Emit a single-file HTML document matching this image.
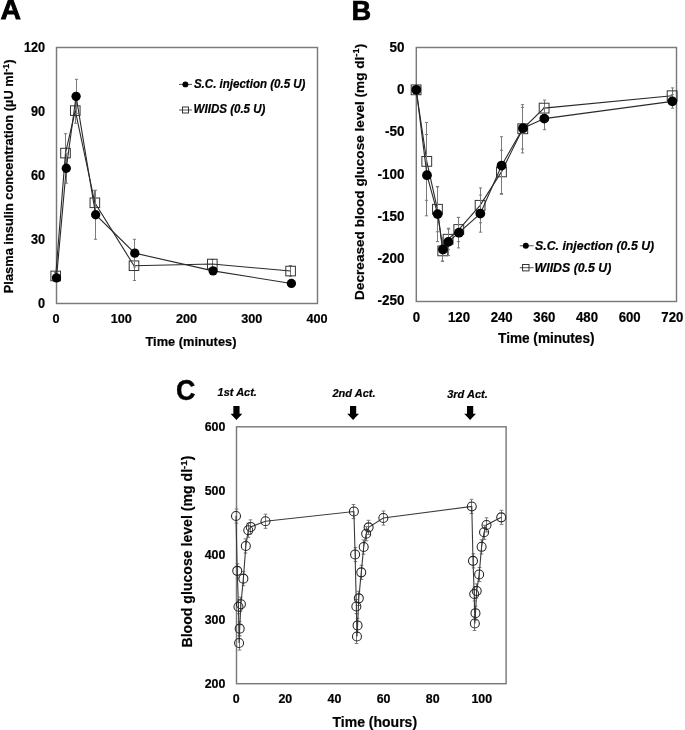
<!DOCTYPE html><html><head><meta charset="utf-8"><style>
html,body{margin:0;padding:0;background:#fff;width:685px;height:730px;overflow:hidden}
svg{display:block;will-change:transform;filter:blur(0.35px)}text{font-family:"Liberation Sans", sans-serif;font-weight:bold;fill:#000;stroke:#000;stroke-width:0.2px}
.ax{stroke:#7a7a7a;stroke-width:1.45;fill:none}
.eb{stroke:#7a7a7a;stroke-width:1}
</style></head><body>
<svg width="685" height="730" viewBox="0 0 685 730">
<rect width="685" height="730" fill="#fff"/>
<text x="0.6" y="19.2" font-size="28.4" style="stroke-width:0.8px">A</text>
<rect class="ax" x="56.5" y="47.5" width="261.0" height="256.0"/>
<text transform="translate(45.1,307.6) scale(1,1.08)" font-size="12.7" text-anchor="end">0</text>
<text transform="translate(45.1,243.6) scale(1,1.08)" font-size="12.7" text-anchor="end">30</text>
<text transform="translate(45.1,179.6) scale(1,1.08)" font-size="12.7" text-anchor="end">60</text>
<text transform="translate(45.1,115.6) scale(1,1.08)" font-size="12.7" text-anchor="end">90</text>
<text transform="translate(45.1,51.6) scale(1,1.08)" font-size="12.7" text-anchor="end">120</text>
<text transform="translate(56,323.3) scale(1,1.06)" font-size="12.7" text-anchor="middle">0</text>
<text transform="translate(121.25,323.3) scale(1,1.06)" font-size="12.7" text-anchor="middle">100</text>
<text transform="translate(186.5,323.3) scale(1,1.06)" font-size="12.7" text-anchor="middle">200</text>
<text transform="translate(251.75,323.3) scale(1,1.06)" font-size="12.7" text-anchor="middle">300</text>
<text transform="translate(317,323.3) scale(1,1.06)" font-size="12.7" text-anchor="middle">400</text>
<text transform="translate(190.95,345.7) scale(1,1.04)" font-size="12.83" text-anchor="middle">Time (minutes)</text>
<text transform="translate(13.2,176.3) rotate(-90)" font-size="12.85" text-anchor="middle">Plasma insulin concentration (µU ml<tspan font-size="9" dy="-4.3">-1</tspan><tspan dy="4.3">)</tspan></text>
<g class="eb">
<line x1="55.5" y1="272.57" x2="55.5" y2="278.97"/><line x1="53.9" y1="272.57" x2="57.1" y2="272.57"/><line x1="53.9" y1="278.97" x2="57.1" y2="278.97"/>
<line x1="65.5" y1="133.69" x2="65.5" y2="172.09"/><line x1="63.9" y1="133.69" x2="67.1" y2="133.69"/><line x1="63.9" y1="172.09" x2="67.1" y2="172.09"/>
<line x1="75.5" y1="97.63" x2="75.5" y2="123.23"/><line x1="73.9" y1="97.63" x2="77.1" y2="97.63"/><line x1="73.9" y1="123.23" x2="77.1" y2="123.23"/>
<line x1="94.5" y1="190.65" x2="94.5" y2="214.54"/><line x1="92.9" y1="190.65" x2="96.1" y2="190.65"/><line x1="92.9" y1="214.54" x2="96.1" y2="214.54"/>
<line x1="134.5" y1="250.59" x2="134.5" y2="280.46"/><line x1="132.9" y1="250.59" x2="136.1" y2="250.59"/><line x1="132.9" y1="280.46" x2="136.1" y2="280.46"/>
<line x1="212.5" y1="259.55" x2="212.5" y2="268.09"/><line x1="210.9" y1="259.55" x2="214.1" y2="259.55"/><line x1="210.9" y1="268.09" x2="214.1" y2="268.09"/>
<line x1="290.5" y1="265.53" x2="290.5" y2="276.19"/><line x1="288.9" y1="265.53" x2="292.1" y2="265.53"/><line x1="288.9" y1="276.19" x2="292.1" y2="276.19"/>
</g>
<polyline fill="none" stroke="#2a2a2a" stroke-width="1.1" points="55.7,275.97 65.49,153.09 75.28,110.63 94.85,202.79 134,265.73 212.3,264.02 290.6,271.06"/>
<rect x="50.9" y="271.17" width="9.6" height="9.6" fill="none" stroke="#333" stroke-width="1"/>
<rect x="60.69" y="148.29" width="9.6" height="9.6" fill="none" stroke="#333" stroke-width="1"/>
<rect x="70.48" y="105.83" width="9.6" height="9.6" fill="none" stroke="#333" stroke-width="1"/>
<rect x="90.05" y="197.99" width="9.6" height="9.6" fill="none" stroke="#333" stroke-width="1"/>
<rect x="129.2" y="260.93" width="9.6" height="9.6" fill="none" stroke="#333" stroke-width="1"/>
<rect x="207.5" y="259.22" width="9.6" height="9.6" fill="none" stroke="#333" stroke-width="1"/>
<rect x="285.8" y="266.26" width="9.6" height="9.6" fill="none" stroke="#333" stroke-width="1"/>
<g class="eb">
<line x1="56.5" y1="274.7" x2="56.5" y2="281.1"/><line x1="54.9" y1="274.7" x2="58.1" y2="274.7"/><line x1="54.9" y1="281.1" x2="58.1" y2="281.1"/>
<line x1="66.5" y1="153.31" x2="66.5" y2="183.18"/><line x1="64.9" y1="153.31" x2="68.1" y2="153.31"/><line x1="64.9" y1="183.18" x2="68.1" y2="183.18"/>
<line x1="76.5" y1="79.29" x2="76.5" y2="113.42"/><line x1="74.9" y1="79.29" x2="78.1" y2="79.29"/><line x1="74.9" y1="113.42" x2="78.1" y2="113.42"/>
<line x1="95.5" y1="190.22" x2="95.5" y2="239.29"/><line x1="93.9" y1="190.22" x2="97.1" y2="190.22"/><line x1="93.9" y1="239.29" x2="97.1" y2="239.29"/>
<line x1="134.5" y1="239.29" x2="134.5" y2="267.02"/><line x1="132.9" y1="239.29" x2="136.1" y2="239.29"/><line x1="132.9" y1="267.02" x2="136.1" y2="267.02"/>
<line x1="213.5" y1="267.66" x2="213.5" y2="274.06"/><line x1="211.9" y1="267.66" x2="215.1" y2="267.66"/><line x1="211.9" y1="274.06" x2="215.1" y2="274.06"/>
<line x1="291.5" y1="280.25" x2="291.5" y2="286.65"/><line x1="289.9" y1="280.25" x2="293.1" y2="280.25"/><line x1="289.9" y1="286.65" x2="293.1" y2="286.65"/>
</g>
<polyline fill="none" stroke="#2a2a2a" stroke-width="1.1" points="56.5,277.9 66.29,168.25 76.08,96.35 95.65,214.75 134.8,253.15 213.1,270.86 291.4,283.45"/>
<circle cx="56.5" cy="277.9" r="4.65" fill="#000"/>
<circle cx="66.29" cy="168.25" r="4.65" fill="#000"/>
<circle cx="76.08" cy="96.35" r="4.65" fill="#000"/>
<circle cx="95.65" cy="214.75" r="4.65" fill="#000"/>
<circle cx="134.8" cy="253.15" r="4.65" fill="#000"/>
<circle cx="213.1" cy="270.86" r="4.65" fill="#000"/>
<circle cx="291.4" cy="283.45" r="4.65" fill="#000"/>
<line x1="179" y1="84.4" x2="192" y2="84.4" stroke="#555" stroke-width="1"/>
<circle cx="185.4" cy="84.4" r="2.95" fill="#000"/>
<text transform="translate(193.9,87.9) scale(1,1.05)" font-size="11.55" font-style="italic">S.C. injection (0.5 U)</text>
<line x1="179" y1="110" x2="192" y2="110" stroke="#555" stroke-width="1"/>
<rect x="182.5" y="107" width="6" height="6" fill="none" stroke="#222" stroke-width="0.9"/>
<text transform="translate(193.6,113.4) scale(1,1.05)" font-size="11.55" font-style="italic">WIIDS (0.5 U)</text>
<text transform="translate(351.4,20.25) scale(0.965,1.0)" font-size="28.2" style="stroke-width:0.7px">B</text>
<rect class="ax" x="416.3" y="47.5" width="260.2" height="254.0"/>
<text transform="translate(404.4,52.1) scale(1,1.07)" font-size="13.5" text-anchor="end">50</text>
<text transform="translate(404.4,94.28) scale(1,1.07)" font-size="13.5" text-anchor="end">0</text>
<text transform="translate(404.4,136.45) scale(1,1.07)" font-size="13.5" text-anchor="end">-50</text>
<text transform="translate(404.4,178.62) scale(1,1.07)" font-size="13.5" text-anchor="end">-100</text>
<text transform="translate(404.4,220.8) scale(1,1.07)" font-size="13.5" text-anchor="end">-150</text>
<text transform="translate(404.4,262.98) scale(1,1.07)" font-size="13.5" text-anchor="end">-200</text>
<text transform="translate(404.4,305.15) scale(1,1.07)" font-size="13.5" text-anchor="end">-250</text>
<text transform="translate(416.3,322.1) scale(1,1.05)" font-size="13.2" text-anchor="middle">0</text>
<text transform="translate(458.97,322.1) scale(1,1.05)" font-size="13.2" text-anchor="middle">120</text>
<text transform="translate(501.64,322.1) scale(1,1.05)" font-size="13.2" text-anchor="middle">240</text>
<text transform="translate(544.32,322.1) scale(1,1.05)" font-size="13.2" text-anchor="middle">360</text>
<text transform="translate(586.99,322.1) scale(1,1.05)" font-size="13.2" text-anchor="middle">480</text>
<text transform="translate(629.66,322.1) scale(1,1.05)" font-size="13.2" text-anchor="middle">600</text>
<text transform="translate(672.33,322.1) scale(1,1.05)" font-size="13.2" text-anchor="middle">720</text>
<text transform="translate(546.3,342.7) scale(1,1.04)" font-size="13.6" text-anchor="middle">Time (minutes)</text>
<text transform="translate(363.6,171.8) rotate(-90)" font-size="13.6" text-anchor="middle">Decreased blood glucose level (mg dl<tspan font-size="9.5" dy="-4.4">-1</tspan><tspan dy="4.4">)</tspan></text>
<g class="eb">
<line x1="426.5" y1="122.43" x2="426.5" y2="200.32"/><line x1="424.9" y1="122.43" x2="428.1" y2="122.43"/><line x1="424.9" y1="200.32" x2="428.1" y2="200.32"/>
<line x1="437.5" y1="186.86" x2="437.5" y2="231.73"/><line x1="435.9" y1="186.86" x2="439.1" y2="186.86"/><line x1="435.9" y1="231.73" x2="439.1" y2="231.73"/>
<line x1="442.5" y1="240.71" x2="442.5" y2="261.03"/><line x1="440.9" y1="240.71" x2="444.1" y2="240.71"/><line x1="440.9" y1="261.03" x2="444.1" y2="261.03"/>
<line x1="448.5" y1="229.11" x2="448.5" y2="249.43"/><line x1="446.9" y1="229.11" x2="450.1" y2="229.11"/><line x1="446.9" y1="249.43" x2="450.1" y2="249.43"/>
<line x1="458.5" y1="217.43" x2="458.5" y2="241.64"/><line x1="456.9" y1="217.43" x2="460.1" y2="217.43"/><line x1="456.9" y1="241.64" x2="460.1" y2="241.64"/>
<line x1="480.5" y1="187.88" x2="480.5" y2="222.76"/><line x1="478.9" y1="187.88" x2="482.1" y2="187.88"/><line x1="478.9" y1="222.76" x2="482.1" y2="222.76"/>
<line x1="501.5" y1="150.29" x2="501.5" y2="193.47"/><line x1="499.9" y1="150.29" x2="503.1" y2="150.29"/><line x1="499.9" y1="193.47" x2="503.1" y2="193.47"/>
<line x1="522.5" y1="104.65" x2="522.5" y2="152.91"/><line x1="520.9" y1="104.65" x2="524.1" y2="104.65"/><line x1="520.9" y1="152.91" x2="524.1" y2="152.91"/>
<line x1="544.5" y1="100.08" x2="544.5" y2="116.16"/><line x1="542.9" y1="100.08" x2="546.1" y2="100.08"/><line x1="542.9" y1="116.16" x2="546.1" y2="116.16"/>
<line x1="672.5" y1="87.89" x2="672.5" y2="103.63"/><line x1="670.9" y1="87.89" x2="674.1" y2="87.89"/><line x1="670.9" y1="103.63" x2="674.1" y2="103.63"/>
</g>
<polyline fill="none" stroke="#2a2a2a" stroke-width="1.1" points="416.1,89.83 426.77,161.38 437.44,209.3 442.77,250.87 448.1,239.27 458.77,229.53 480.11,205.32 501.44,171.88 522.78,128.78 544.12,108.12 672.13,95.76"/>
<rect x="411.2" y="84.93" width="9.8" height="9.8" fill="none" stroke="#333" stroke-width="1"/>
<rect x="421.87" y="156.48" width="9.8" height="9.8" fill="none" stroke="#333" stroke-width="1"/>
<rect x="432.54" y="204.4" width="9.8" height="9.8" fill="none" stroke="#333" stroke-width="1"/>
<rect x="437.87" y="245.97" width="9.8" height="9.8" fill="none" stroke="#333" stroke-width="1"/>
<rect x="443.2" y="234.37" width="9.8" height="9.8" fill="none" stroke="#333" stroke-width="1"/>
<rect x="453.87" y="224.63" width="9.8" height="9.8" fill="none" stroke="#333" stroke-width="1"/>
<rect x="475.21" y="200.42" width="9.8" height="9.8" fill="none" stroke="#333" stroke-width="1"/>
<rect x="496.54" y="166.98" width="9.8" height="9.8" fill="none" stroke="#333" stroke-width="1"/>
<rect x="517.88" y="123.88" width="9.8" height="9.8" fill="none" stroke="#333" stroke-width="1"/>
<rect x="539.22" y="103.22" width="9.8" height="9.8" fill="none" stroke="#333" stroke-width="1"/>
<rect x="667.23" y="90.86" width="9.8" height="9.8" fill="none" stroke="#333" stroke-width="1"/>
<g class="eb">
<line x1="426.5" y1="134.54" x2="426.5" y2="215.82"/><line x1="424.9" y1="134.54" x2="428.1" y2="134.54"/><line x1="424.9" y1="215.82" x2="428.1" y2="215.82"/>
<line x1="437.5" y1="186.61" x2="437.5" y2="241.64"/><line x1="435.9" y1="186.61" x2="439.1" y2="186.61"/><line x1="435.9" y1="241.64" x2="439.1" y2="241.64"/>
<line x1="442.5" y1="237.66" x2="442.5" y2="261.37"/><line x1="440.9" y1="237.66" x2="444.1" y2="237.66"/><line x1="440.9" y1="261.37" x2="444.1" y2="261.37"/>
<line x1="448.5" y1="228.18" x2="448.5" y2="255.61"/><line x1="446.9" y1="228.18" x2="450.1" y2="228.18"/><line x1="446.9" y1="255.61" x2="450.1" y2="255.61"/>
<line x1="458.5" y1="217.43" x2="458.5" y2="247.91"/><line x1="456.9" y1="217.43" x2="460.1" y2="217.43"/><line x1="456.9" y1="247.91" x2="460.1" y2="247.91"/>
<line x1="480.5" y1="195.07" x2="480.5" y2="232.16"/><line x1="478.9" y1="195.07" x2="482.1" y2="195.07"/><line x1="478.9" y1="232.16" x2="482.1" y2="232.16"/>
<line x1="501.5" y1="136.74" x2="501.5" y2="194.31"/><line x1="499.9" y1="136.74" x2="503.1" y2="136.74"/><line x1="499.9" y1="194.31" x2="503.1" y2="194.31"/>
<line x1="522.5" y1="107.36" x2="522.5" y2="149.02"/><line x1="520.9" y1="107.36" x2="524.1" y2="107.36"/><line x1="520.9" y1="149.02" x2="524.1" y2="149.02"/>
<line x1="544.5" y1="107.53" x2="544.5" y2="129.71"/><line x1="542.9" y1="107.53" x2="546.1" y2="107.53"/><line x1="542.9" y1="129.71" x2="546.1" y2="129.71"/>
<line x1="672.5" y1="94.57" x2="672.5" y2="108.12"/><line x1="670.9" y1="94.57" x2="674.1" y2="94.57"/><line x1="670.9" y1="108.12" x2="674.1" y2="108.12"/>
</g>
<polyline fill="none" stroke="#2a2a2a" stroke-width="1.1" points="416.3,89.83 426.97,175.18 437.64,214.12 442.97,249.51 448.3,241.89 458.97,232.67 480.31,213.62 501.64,165.53 522.98,128.19 544.32,118.62 672.33,101.35"/>
<circle cx="416.3" cy="89.83" r="4.9" fill="#000"/>
<circle cx="426.97" cy="175.18" r="4.9" fill="#000"/>
<circle cx="437.64" cy="214.12" r="4.9" fill="#000"/>
<circle cx="442.97" cy="249.51" r="4.9" fill="#000"/>
<circle cx="448.3" cy="241.89" r="4.9" fill="#000"/>
<circle cx="458.97" cy="232.67" r="4.9" fill="#000"/>
<circle cx="480.31" cy="213.62" r="4.9" fill="#000"/>
<circle cx="501.64" cy="165.53" r="4.9" fill="#000"/>
<circle cx="522.98" cy="128.19" r="4.9" fill="#000"/>
<circle cx="544.32" cy="118.62" r="4.9" fill="#000"/>
<circle cx="672.33" cy="101.35" r="4.9" fill="#000"/>
<line x1="519.8" y1="245.8" x2="533.6" y2="245.8" stroke="#555" stroke-width="1"/>
<circle cx="525.8" cy="245.8" r="3.0" fill="#000"/>
<text transform="translate(535,250.3) scale(1,1.04)" font-size="12.35" font-style="italic">S.C. injection (0.5 U)</text>
<line x1="519.8" y1="267.7" x2="533.6" y2="267.7" stroke="#555" stroke-width="1"/>
<rect x="522.6" y="264.5" width="6.4" height="6.4" fill="none" stroke="#222" stroke-width="0.9"/>
<text transform="translate(534.6,272.2) scale(1,1.04)" font-size="12.35" font-style="italic">WIIDS (0.5 U)</text>
<text transform="translate(176.0,400.3) scale(0.96,1.06)" x="0" y="0" font-size="28" style="stroke-width:0.45px">C</text>
<rect class="ax" x="236.5" y="426.8" width="269.6" height="256.90000000000003"/>
<text x="225.4" y="687.8" font-size="12.4" text-anchor="end">200</text>
<text x="225.4" y="623.55" font-size="12.4" text-anchor="end">300</text>
<text x="225.4" y="559.3" font-size="12.4" text-anchor="end">400</text>
<text x="225.4" y="495.05" font-size="12.4" text-anchor="end">500</text>
<text x="225.4" y="430.8" font-size="12.4" text-anchor="end">600</text>
<text x="236.2" y="703" font-size="12.4" text-anchor="middle">0</text>
<text x="285.32" y="703" font-size="12.4" text-anchor="middle">20</text>
<text x="334.44" y="703" font-size="12.4" text-anchor="middle">40</text>
<text x="383.56" y="703" font-size="12.4" text-anchor="middle">60</text>
<text x="432.68" y="703" font-size="12.4" text-anchor="middle">80</text>
<text x="481.8" y="703" font-size="12.4" text-anchor="middle">100</text>
<text transform="translate(374.8,726.5) scale(1,1.05)" font-size="14" text-anchor="middle">Time (hours)</text>
<text transform="translate(191.7,551.5) rotate(-90)" font-size="14.1" text-anchor="middle">Blood glucose level (mg dl<tspan font-size="9.8" dy="-4.6">-1</tspan><tspan dy="4.6">)</tspan></text>
<text x="217.6" y="396" font-size="11" font-style="italic">1st Act.</text>
<path d="M233.35,406.1 h6.2 v7.7 h2.8 l-5.9,6.2 l-5.9,-6.2 h2.8 z" fill="#000"/>
<text x="332.5" y="396.8" font-size="11" font-style="italic">2nd Act.</text>
<path d="M350,406.1 h6.2 v7.7 h2.8 l-5.9,6.2 l-5.9,-6.2 h2.8 z" fill="#000"/>
<text x="447.2" y="397.5" font-size="11" font-style="italic">3rd Act.</text>
<path d="M467,406.1 h6.2 v7.7 h2.8 l-5.9,6.2 l-5.9,-6.2 h2.8 z" fill="#000"/>
<g class="eb">
<line x1="236.5" y1="509" x2="236.5" y2="523.13"/><line x1="234.7" y1="509" x2="238.3" y2="509"/><line x1="234.7" y1="523.13" x2="238.3" y2="523.13"/>
<line x1="237.5" y1="563.8" x2="237.5" y2="577.94"/><line x1="235.7" y1="563.8" x2="239.3" y2="563.8"/><line x1="235.7" y1="577.94" x2="239.3" y2="577.94"/>
<line x1="238.5" y1="599.65" x2="238.5" y2="613.79"/><line x1="236.7" y1="599.65" x2="240.3" y2="599.65"/><line x1="236.7" y1="613.79" x2="240.3" y2="613.79"/>
<line x1="239.5" y1="635.96" x2="239.5" y2="650.09"/><line x1="237.7" y1="635.96" x2="241.3" y2="635.96"/><line x1="237.7" y1="650.09" x2="241.3" y2="650.09"/>
<line x1="239.5" y1="621.56" x2="239.5" y2="635.7"/><line x1="237.7" y1="621.56" x2="241.3" y2="621.56"/><line x1="237.7" y1="635.7" x2="241.3" y2="635.7"/>
<line x1="240.5" y1="597.21" x2="240.5" y2="611.35"/><line x1="238.7" y1="597.21" x2="242.3" y2="597.21"/><line x1="238.7" y1="611.35" x2="242.3" y2="611.35"/>
<line x1="243.5" y1="571.58" x2="243.5" y2="585.71"/><line x1="241.7" y1="571.58" x2="245.3" y2="571.58"/><line x1="241.7" y1="585.71" x2="245.3" y2="585.71"/>
<line x1="245.5" y1="538.87" x2="245.5" y2="553.01"/><line x1="243.7" y1="538.87" x2="247.3" y2="538.87"/><line x1="243.7" y1="553.01" x2="247.3" y2="553.01"/>
<line x1="248.5" y1="523.2" x2="248.5" y2="537.33"/><line x1="246.7" y1="523.2" x2="250.3" y2="523.2"/><line x1="246.7" y1="537.33" x2="250.3" y2="537.33"/>
<line x1="250.5" y1="519.86" x2="250.5" y2="533.99"/><line x1="248.7" y1="519.86" x2="252.3" y2="519.86"/><line x1="248.7" y1="533.99" x2="252.3" y2="533.99"/>
<line x1="265.5" y1="514.2" x2="265.5" y2="528.34"/><line x1="263.7" y1="514.2" x2="267.3" y2="514.2"/><line x1="263.7" y1="528.34" x2="267.3" y2="528.34"/>
<line x1="353.5" y1="504.5" x2="353.5" y2="518.63"/><line x1="351.7" y1="504.5" x2="355.3" y2="504.5"/><line x1="351.7" y1="518.63" x2="355.3" y2="518.63"/>
<line x1="355.5" y1="547.48" x2="355.5" y2="561.62"/><line x1="353.7" y1="547.48" x2="357.3" y2="547.48"/><line x1="353.7" y1="561.62" x2="357.3" y2="561.62"/>
<line x1="356.5" y1="599.46" x2="356.5" y2="613.6"/><line x1="354.7" y1="599.46" x2="358.3" y2="599.46"/><line x1="354.7" y1="613.6" x2="358.3" y2="613.6"/>
<line x1="356.5" y1="629.4" x2="356.5" y2="643.54"/><line x1="354.7" y1="629.4" x2="358.3" y2="629.4"/><line x1="354.7" y1="643.54" x2="358.3" y2="643.54"/>
<line x1="357.5" y1="618.35" x2="357.5" y2="632.49"/><line x1="355.7" y1="618.35" x2="359.3" y2="618.35"/><line x1="355.7" y1="632.49" x2="359.3" y2="632.49"/>
<line x1="358.5" y1="591.3" x2="358.5" y2="605.44"/><line x1="356.7" y1="591.3" x2="360.3" y2="591.3"/><line x1="356.7" y1="605.44" x2="360.3" y2="605.44"/>
<line x1="361.5" y1="565.28" x2="361.5" y2="579.42"/><line x1="359.7" y1="565.28" x2="363.3" y2="565.28"/><line x1="359.7" y1="579.42" x2="363.3" y2="579.42"/>
<line x1="363.5" y1="539.97" x2="363.5" y2="554.1"/><line x1="361.7" y1="539.97" x2="365.3" y2="539.97"/><line x1="361.7" y1="554.1" x2="365.3" y2="554.1"/>
<line x1="366.5" y1="526.67" x2="366.5" y2="540.8"/><line x1="364.7" y1="526.67" x2="368.3" y2="526.67"/><line x1="364.7" y1="540.8" x2="368.3" y2="540.8"/>
<line x1="368.5" y1="520.31" x2="368.5" y2="534.44"/><line x1="366.7" y1="520.31" x2="370.3" y2="520.31"/><line x1="366.7" y1="534.44" x2="370.3" y2="534.44"/>
<line x1="383.5" y1="510.99" x2="383.5" y2="525.12"/><line x1="381.7" y1="510.99" x2="385.3" y2="510.99"/><line x1="381.7" y1="525.12" x2="385.3" y2="525.12"/>
<line x1="471.5" y1="499.36" x2="471.5" y2="513.49"/><line x1="469.7" y1="499.36" x2="473.3" y2="499.36"/><line x1="469.7" y1="513.49" x2="473.3" y2="513.49"/>
<line x1="473.5" y1="553.78" x2="473.5" y2="567.91"/><line x1="471.7" y1="553.78" x2="475.3" y2="553.78"/><line x1="471.7" y1="567.91" x2="475.3" y2="567.91"/>
<line x1="474.5" y1="586.87" x2="474.5" y2="601"/><line x1="472.7" y1="586.87" x2="476.3" y2="586.87"/><line x1="472.7" y1="601" x2="476.3" y2="601"/>
<line x1="474.5" y1="616.36" x2="474.5" y2="630.49"/><line x1="472.7" y1="616.36" x2="476.3" y2="616.36"/><line x1="472.7" y1="630.49" x2="476.3" y2="630.49"/>
<line x1="475.5" y1="606.08" x2="475.5" y2="620.21"/><line x1="473.7" y1="606.08" x2="477.3" y2="606.08"/><line x1="473.7" y1="620.21" x2="477.3" y2="620.21"/>
<line x1="476.5" y1="583.91" x2="476.5" y2="598.05"/><line x1="474.7" y1="583.91" x2="478.3" y2="583.91"/><line x1="474.7" y1="598.05" x2="478.3" y2="598.05"/>
<line x1="479.5" y1="567.46" x2="479.5" y2="581.6"/><line x1="477.7" y1="567.46" x2="481.3" y2="567.46"/><line x1="477.7" y1="581.6" x2="481.3" y2="581.6"/>
<line x1="481.5" y1="539.77" x2="481.5" y2="553.91"/><line x1="479.7" y1="539.77" x2="483.3" y2="539.77"/><line x1="479.7" y1="553.91" x2="483.3" y2="553.91"/>
<line x1="484.5" y1="525.25" x2="484.5" y2="539.39"/><line x1="482.7" y1="525.25" x2="486.3" y2="525.25"/><line x1="482.7" y1="539.39" x2="486.3" y2="539.39"/>
<line x1="486.5" y1="517.86" x2="486.5" y2="532"/><line x1="484.7" y1="517.86" x2="488.3" y2="517.86"/><line x1="484.7" y1="532" x2="488.3" y2="532"/>
<line x1="501.5" y1="510.28" x2="501.5" y2="524.42"/><line x1="499.7" y1="510.28" x2="503.3" y2="510.28"/><line x1="499.7" y1="524.42" x2="503.3" y2="524.42"/>
</g>
<polyline fill="none" stroke="#3a3a3a" stroke-width="1.1" points="236,516.06 237.23,570.87 238.46,606.72 239.07,643.02 239.68,628.63 240.91,604.28 243.37,578.64 245.82,545.94 248.28,530.26 250.74,526.92 265.47,521.27 353.89,511.57 355.12,554.55 356.34,606.53 356.96,636.47 357.57,625.42 358.8,598.37 361.26,572.35 363.71,547.03 366.17,533.73 368.62,527.37 383.36,518.06 471.78,506.43 473,560.85 474.23,593.94 474.85,623.43 475.46,613.15 476.69,590.98 479.14,574.53 481.6,546.84 484.06,532.32 486.51,524.93 501.25,517.35"/>
<circle cx="236" cy="516.06" r="4.5" fill="none" stroke="#222" stroke-width="1.05"/>
<circle cx="237.23" cy="570.87" r="4.5" fill="none" stroke="#222" stroke-width="1.05"/>
<circle cx="238.46" cy="606.72" r="4.5" fill="none" stroke="#222" stroke-width="1.05"/>
<circle cx="239.07" cy="643.02" r="4.5" fill="none" stroke="#222" stroke-width="1.05"/>
<circle cx="239.68" cy="628.63" r="4.5" fill="none" stroke="#222" stroke-width="1.05"/>
<circle cx="240.91" cy="604.28" r="4.5" fill="none" stroke="#222" stroke-width="1.05"/>
<circle cx="243.37" cy="578.64" r="4.5" fill="none" stroke="#222" stroke-width="1.05"/>
<circle cx="245.82" cy="545.94" r="4.5" fill="none" stroke="#222" stroke-width="1.05"/>
<circle cx="248.28" cy="530.26" r="4.5" fill="none" stroke="#222" stroke-width="1.05"/>
<circle cx="250.74" cy="526.92" r="4.5" fill="none" stroke="#222" stroke-width="1.05"/>
<circle cx="265.47" cy="521.27" r="4.5" fill="none" stroke="#222" stroke-width="1.05"/>
<circle cx="353.89" cy="511.57" r="4.5" fill="none" stroke="#222" stroke-width="1.05"/>
<circle cx="355.12" cy="554.55" r="4.5" fill="none" stroke="#222" stroke-width="1.05"/>
<circle cx="356.34" cy="606.53" r="4.5" fill="none" stroke="#222" stroke-width="1.05"/>
<circle cx="356.96" cy="636.47" r="4.5" fill="none" stroke="#222" stroke-width="1.05"/>
<circle cx="357.57" cy="625.42" r="4.5" fill="none" stroke="#222" stroke-width="1.05"/>
<circle cx="358.8" cy="598.37" r="4.5" fill="none" stroke="#222" stroke-width="1.05"/>
<circle cx="361.26" cy="572.35" r="4.5" fill="none" stroke="#222" stroke-width="1.05"/>
<circle cx="363.71" cy="547.03" r="4.5" fill="none" stroke="#222" stroke-width="1.05"/>
<circle cx="366.17" cy="533.73" r="4.5" fill="none" stroke="#222" stroke-width="1.05"/>
<circle cx="368.62" cy="527.37" r="4.5" fill="none" stroke="#222" stroke-width="1.05"/>
<circle cx="383.36" cy="518.06" r="4.5" fill="none" stroke="#222" stroke-width="1.05"/>
<circle cx="471.78" cy="506.43" r="4.5" fill="none" stroke="#222" stroke-width="1.05"/>
<circle cx="473" cy="560.85" r="4.5" fill="none" stroke="#222" stroke-width="1.05"/>
<circle cx="474.23" cy="593.94" r="4.5" fill="none" stroke="#222" stroke-width="1.05"/>
<circle cx="474.85" cy="623.43" r="4.5" fill="none" stroke="#222" stroke-width="1.05"/>
<circle cx="475.46" cy="613.15" r="4.5" fill="none" stroke="#222" stroke-width="1.05"/>
<circle cx="476.69" cy="590.98" r="4.5" fill="none" stroke="#222" stroke-width="1.05"/>
<circle cx="479.14" cy="574.53" r="4.5" fill="none" stroke="#222" stroke-width="1.05"/>
<circle cx="481.6" cy="546.84" r="4.5" fill="none" stroke="#222" stroke-width="1.05"/>
<circle cx="484.06" cy="532.32" r="4.5" fill="none" stroke="#222" stroke-width="1.05"/>
<circle cx="486.51" cy="524.93" r="4.5" fill="none" stroke="#222" stroke-width="1.05"/>
<circle cx="501.25" cy="517.35" r="4.5" fill="none" stroke="#222" stroke-width="1.05"/>
</svg></body></html>
